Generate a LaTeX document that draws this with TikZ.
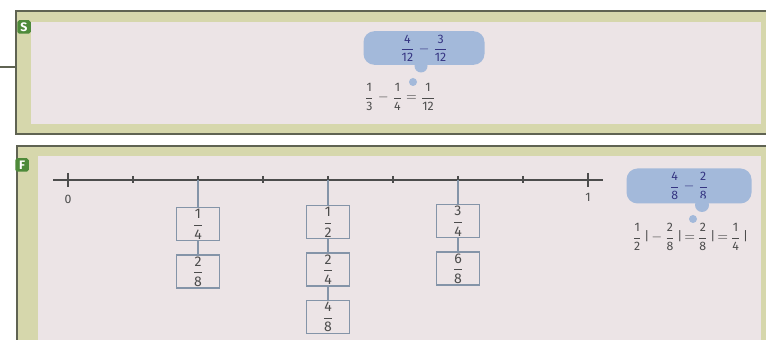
\documentclass[tikz,border=0pt]{standalone}
\usepackage{amsmath}
\usepackage{fontspec}
\setmainfont{Fira Sans}
\usetikzlibrary{positioning}

\definecolor{panelpink}{HTML}{ECE4E6}
\definecolor{panelband}{HTML}{D6D7AC}
\definecolor{panelline}{HTML}{5F6352}
\definecolor{badgegreen}{HTML}{4E8A3A}
\definecolor{bubbleblue}{HTML}{A3B9DA}
\definecolor{boxline}{HTML}{8494A8}
\definecolor{inkgrey}{HTML}{4C4C4C}

\newcommand{\fr}[2]{$\dfrac{\text{#1}}{\text{#2}}$}

\tikzset{
  fracbox/.style={draw=boxline, thick, fill=panelpink, minimum width=0.86cm, minimum height=0.66cm, inner sep=0pt, font=\footnotesize, text=inkgrey},
  badge/.style={fill=badgegreen, text=white, rounded corners=1pt, font=\bfseries\scriptsize, minimum size=0.27cm, inner sep=0pt},
  bubble/.style={fill=bubbleblue, rounded corners=0.22cm, minimum height=0.64cm, inner sep=2pt, font=\scriptsize, text=inkgrey!70!blue},
  sumtext/.style={font=\scriptsize, text=inkgrey},
  link/.style={boxline, thick},
  axistick/.style={inkgrey, thick}
}

\begin{document}
\begin{tikzpicture}[x=0.2mm, y=-0.2mm]
\useasboundingbox (0,0) rectangle (766,340);
\clip (0,0) rectangle (766,340);
\fill[white] (0,0) rectangle (766,340);

% top panel
\filldraw[fill=panelband, draw=panelline, thick] (16,11) rectangle (780,134);
\fill[panelpink] (31,22) rectangle (761,124);
\draw[panelline, thick] (0,67) -- (16,67);
\node[badge] (s) at (24,27) {S};

\node[bubble, minimum width=2.42cm] (b1) at (424,48) {\fr{4}{12} $-$ \fr{3}{12}};
\fill[bubbleblue] (421,66) circle (0.13cm);
\fill[bubbleblue] (413,82) circle (0.08cm);
\node[sumtext] (e1) at (400,97) {\fr13 $-$ \fr14 $=$ \fr1{12}};

% bottom panel
\filldraw[fill=panelband, draw=panelline, thick] (17,146) rectangle (780,360);
\fill[panelpink] (38,156) rectangle (761,360);
\node[badge] (f) at (22,165) {F};

% number line
\draw[inkgrey, thick] (53,180) -- (603,180);
\foreach \i in {0,...,8}{
  \coordinate (t\i) at (68+65*\i,180);
  \draw[axistick] (68+65*\i,176) -- (68+65*\i,183);
}
\draw[axistick] (t0) ++(0,-7) -- ++(0,14);
\draw[axistick] (t8) ++(0,-7) -- ++(0,14);
\node[sumtext, below=0.18cm of t0] (zero) {0};
\node[sumtext, below=0.14cm of t8] (one) {1};

% fraction boxes
\node[fracbox, below=0.54cm of t2] (q1) {\fr14};
\node[fracbox, below=0.26cm of q1] (q2) {\fr28};
\draw[link] (t2) -- (q1);
\draw[link] (q1) -- (q2);

\node[fracbox, below=0.5cm of t4] (h1) {\fr12};
\node[fracbox, below=0.26cm of h1] (h2) {\fr24};
\node[fracbox, below=0.26cm of h2] (h3) {\fr48};
\draw[link] (t4) -- (h1);
\draw[link] (h1) -- (h2);
\draw[link] (h2) -- (h3);

\node[fracbox, below=0.48cm of t6] (r1) {\fr34};
\node[fracbox, below=0.26cm of r1] (r2) {\fr68};
\draw[link] (t6) -- (r1);
\draw[link] (r1) -- (r2);

\node[bubble, minimum width=2.5cm, minimum height=0.7cm] (b2) at (689,186) {\fr48 $-$ \fr28};
\fill[bubbleblue] (702,205) circle (0.14cm);
\fill[bubbleblue] (693,219) circle (0.08cm);
\node[sumtext] (e2) at (690,237) {\fr12\,|\,$-$\,\fr28\,|\,$=$\,\fr28\,|\,$=$\,\fr14\,|};
\end{tikzpicture}
\end{document}
